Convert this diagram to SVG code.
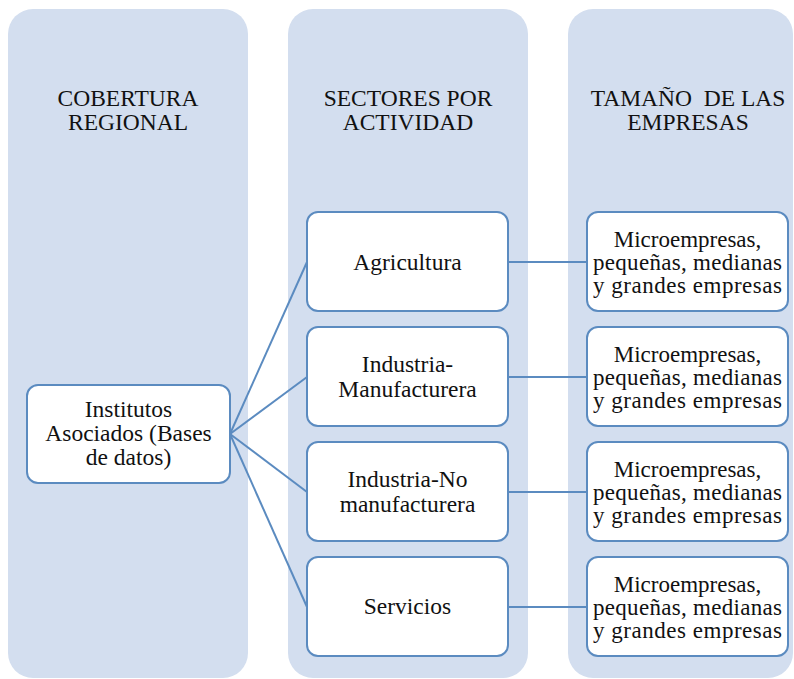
<svg xmlns="http://www.w3.org/2000/svg" width="794" height="679" viewBox="0 0 794 679">
<style>
.col{fill:#D3DEEF;stroke:none}
.box{fill:#FFFFFF;stroke:#5B8BC0;stroke-width:2}
.con{stroke:#5B8BC0;stroke-width:2;fill:none}
text{font-family:"Liberation Serif","Times New Roman",serif;font-size:23.5px;fill:#111;text-anchor:middle}
text.sm{font-size:23px}
</style>
<rect width="794" height="679" fill="#FFFFFF"/>
<g id="col-cobertura">
<rect class="col" x="8" y="9" width="240" height="669" rx="25"/>
<text x="128" y="106">COBERTURA</text>
<text x="128" y="130">REGIONAL</text>
</g>
<g id="col-sectores">
<rect class="col" x="288" y="9" width="240" height="669" rx="25"/>
<text x="408" y="106">SECTORES POR</text>
<text x="408" y="130">ACTIVIDAD</text>
</g>
<g id="col-tamano">
<rect class="col" x="568" y="9" width="225" height="669" rx="25"/>
<text x="688" y="106" xml:space="preserve">TAMAÑO  DE LAS</text>
<text x="688" y="130">EMPRESAS</text>
</g>
<g id="connectors">
<line class="con" x1="230" y1="434" x2="307" y2="262"/>
<line class="con" x1="230" y1="434" x2="307" y2="377"/>
<line class="con" x1="230" y1="434" x2="307" y2="492"/>
<line class="con" x1="230" y1="434" x2="307" y2="607"/>
<line class="con" x1="508" y1="262" x2="587" y2="262"/>
<line class="con" x1="508" y1="377" x2="587" y2="377"/>
<line class="con" x1="508" y1="492" x2="587" y2="492"/>
<line class="con" x1="508" y1="607" x2="587" y2="607"/>
</g>
<g id="institutos">
<rect class="box" x="27" y="385" width="203" height="98" rx="11"/>
<text x="128.5" y="417">Institutos</text>
<text x="128.5" y="441">Asociados (Bases</text>
<text x="128.5" y="465">de datos)</text>
</g>
<g id="agricultura">
<rect class="box" x="307" y="212" width="201" height="99" rx="11"/>
<text x="407.5" y="270">Agricultura</text>
</g>
<g id="industria-manufacturera">
<rect class="box" x="307" y="327" width="201" height="99" rx="11"/>
<text x="407.5" y="372">Industria-</text>
<text x="407.5" y="397">Manufacturera</text>
</g>
<g id="industria-no-manufacturera">
<rect class="box" x="307" y="442" width="201" height="99" rx="11"/>
<text x="407.5" y="487">Industria-No</text>
<text x="407.5" y="512">manufacturera</text>
</g>
<g id="servicios">
<rect class="box" x="307" y="557" width="201" height="99" rx="11"/>
<text x="407.5" y="614">Servicios</text>
</g>
<g id="tamano-1">
<rect class="box" x="587" y="212" width="201" height="99" rx="11"/>
<text class="sm" x="687.5" y="247">Microempresas,</text>
<text class="sm" x="687.5" y="270" textLength="189" lengthAdjust="spacing">pequeñas, medianas</text>
<text class="sm" x="687.5" y="293" textLength="189" lengthAdjust="spacing">y grandes empresas</text>
</g>
<g id="tamano-2">
<rect class="box" x="587" y="327" width="201" height="99" rx="11"/>
<text class="sm" x="687.5" y="362">Microempresas,</text>
<text class="sm" x="687.5" y="385" textLength="189" lengthAdjust="spacing">pequeñas, medianas</text>
<text class="sm" x="687.5" y="408" textLength="189" lengthAdjust="spacing">y grandes empresas</text>
</g>
<g id="tamano-3">
<rect class="box" x="587" y="442" width="201" height="99" rx="11"/>
<text class="sm" x="687.5" y="477">Microempresas,</text>
<text class="sm" x="687.5" y="500" textLength="189" lengthAdjust="spacing">pequeñas, medianas</text>
<text class="sm" x="687.5" y="523" textLength="189" lengthAdjust="spacing">y grandes empresas</text>
</g>
<g id="tamano-4">
<rect class="box" x="587" y="557" width="201" height="99" rx="11"/>
<text class="sm" x="687.5" y="592">Microempresas,</text>
<text class="sm" x="687.5" y="615" textLength="189" lengthAdjust="spacing">pequeñas, medianas</text>
<text class="sm" x="687.5" y="638" textLength="189" lengthAdjust="spacing">y grandes empresas</text>
</g>
</svg>
